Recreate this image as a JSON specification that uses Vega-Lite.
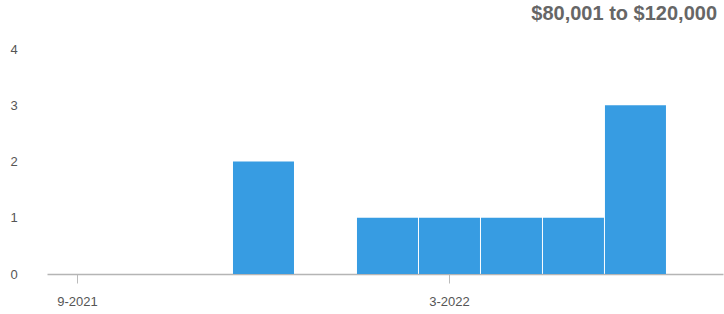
{
  "$schema": "https://vega.github.io/schema/vega-lite/v6.json",
  "autosize": "none",
  "width": 676,
  "height": 225,
  "padding": {"left": 47, "top": 49, "right": 1, "bottom": 40},
  "background": "white",
  "title": {
    "text": "$80,001 to $120,000",
    "anchor": "end",
    "orient": "top",
    "frame": "group",
    "offset": 19,
    "dx": -6,
    "font": "Liberation Sans",
    "fontSize": 20,
    "fontWeight": "bold",
    "color": "#666666"
  },
  "config": {"view": {"stroke": null}},
  "data": {
    "values": [
      {"month": "9-2021", "count": 0},
      {"month": "10-2021", "count": 0},
      {"month": "11-2021", "count": 0},
      {"month": "12-2021", "count": 2},
      {"month": "1-2022", "count": 0},
      {"month": "2-2022", "count": 1},
      {"month": "3-2022", "count": 1},
      {"month": "4-2022", "count": 1},
      {"month": "5-2022", "count": 1},
      {"month": "6-2022", "count": 3}
    ]
  },
  "mark": {"type": "bar", "color": "#379CE2"},
  "encoding": {
    "x": {
      "field": "month",
      "type": "ordinal",
      "sort": null,
      "scale": {"paddingInner": 0.016, "paddingOuter": 0.46, "align": 0},
      "axis": {
        "title": null,
        "values": ["9-2021", "3-2022"],
        "labelAngle": 0,
        "labelFont": "Liberation Sans",
        "labelFontSize": 13,
        "labelColor": "#555555",
        "labelPadding": 12,
        "tickSize": 9,
        "tickColor": "#bbbbbb",
        "domainColor": "#b5b5b5",
        "domainWidth": 1.5,
        "grid": false
      }
    },
    "y": {
      "field": "count",
      "type": "quantitative",
      "scale": {"domain": [0, 4], "nice": false},
      "axis": {
        "title": null,
        "values": [0, 1, 2, 3, 4],
        "domain": false,
        "ticks": false,
        "tickSize": 0,
        "grid": false,
        "labelAlign": "left",
        "labelPadding": 37,
        "labelFont": "Liberation Sans",
        "labelFontSize": 13,
        "labelColor": "#555555"
      }
    }
  }
}
